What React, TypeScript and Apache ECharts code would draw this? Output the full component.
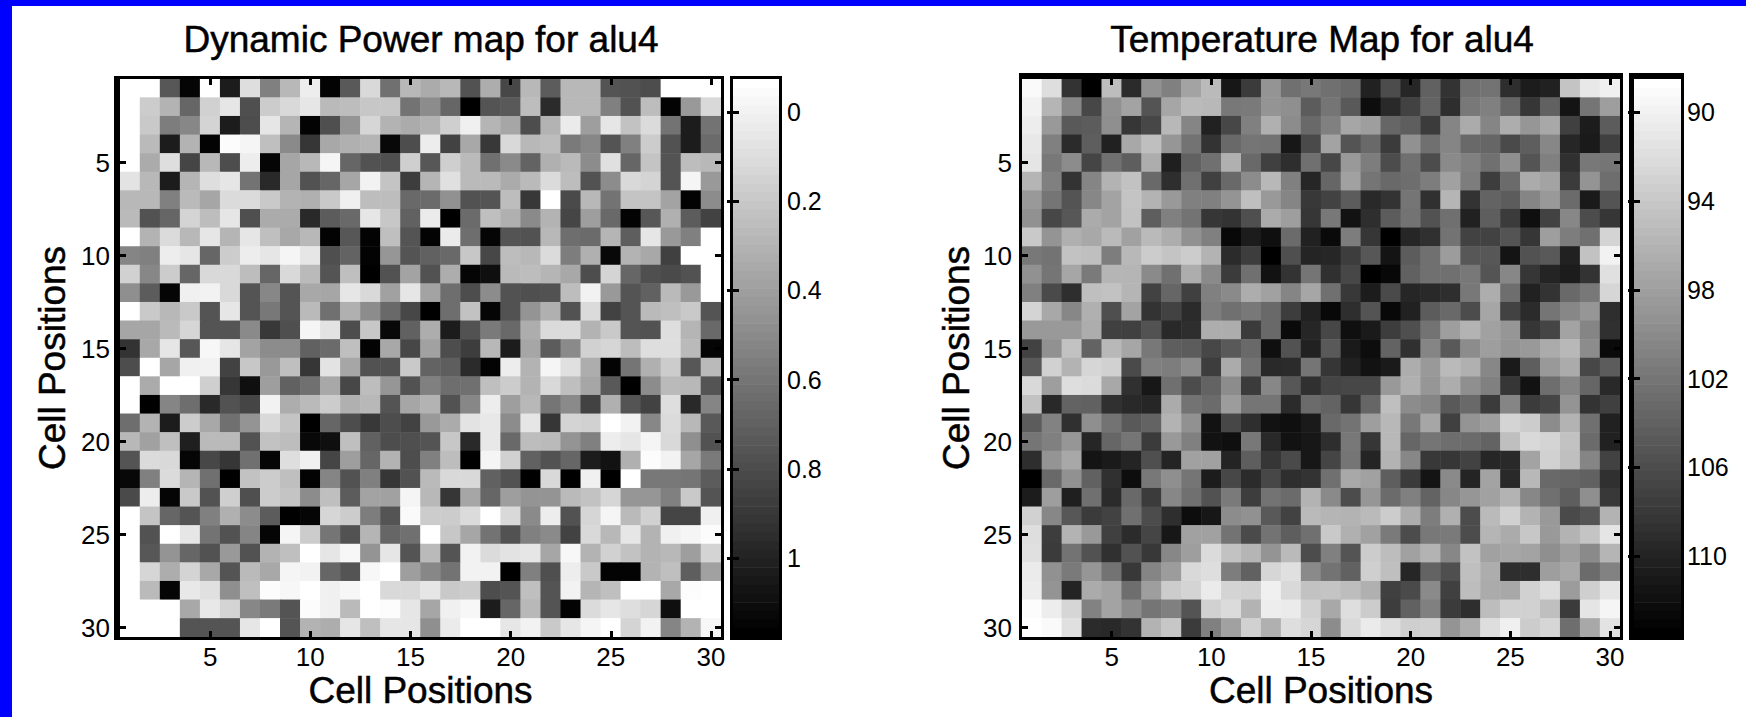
import React, { useEffect, useRef } from "react";
import * as echarts from "echarts";

const cellLabels = Array.from({ length: 30 }, (_, i) => String(i + 1));

const powerShades: number[][] = [
  [100,100,34,2,100,11,87,50,72,93,1,35,85,44,72,67,72,32,68,28,72,36,72,72,33,32,30,100,100,100],
  [100,80,70,40,82,90,31,80,85,90,73,74,78,78,45,55,40,0,33,35,74,17,72,72,50,32,74,1,60,85],
  [100,79,49,53,83,11,30,90,71,1,31,58,84,70,67,70,81,94,71,65,30,70,92,62,90,76,86,45,11,45],
  [100,73,11,70,1,99,96,75,54,21,66,69,71,3,30,93,26,66,22,85,72,74,48,53,33,50,80,32,11,42],
  [100,67,87,27,72,30,93,2,65,72,96,40,32,31,81,34,81,73,44,54,39,69,73,55,88,40,77,33,74,72],
  [89,72,11,71,87,90,45,16,65,32,40,65,95,77,24,71,88,73,73,67,73,86,74,32,55,85,83,33,96,60],
  [72,72,50,73,65,86,86,79,70,69,79,94,74,74,41,42,57,32,33,74,22,100,29,72,45,77,77,64,1,55],
  [73,32,40,83,74,90,31,67,67,16,36,41,90,78,38,92,0,42,75,69,54,70,27,62,41,1,34,69,36,26],
  [100,70,86,72,90,71,90,75,66,72,1,34,1,75,33,1,92,43,2,33,32,72,43,42,71,37,90,60,50,100],
  [52,50,93,90,40,80,93,90,96,90,31,39,1,59,33,38,41,78,28,74,72,86,49,69,3,70,66,25,100,100],
  [82,53,80,40,85,85,74,40,85,73,33,75,0,32,64,32,68,2,6,73,74,71,66,30,83,40,31,29,32,100],
  [56,36,2,94,95,85,33,53,33,66,65,90,85,63,90,64,43,30,55,32,31,32,74,95,60,33,38,73,60,100],
  [100,79,72,79,33,90,33,47,33,73,44,69,55,41,28,0,43,76,2,32,58,69,32,86,26,33,73,75,79,33],
  [65,65,73,84,33,33,54,22,31,96,89,30,78,3,38,68,11,32,48,41,68,86,86,70,79,33,32,87,71,41],
  [20,66,90,34,97,90,64,55,55,38,42,75,1,66,28,63,30,24,72,11,65,36,54,82,84,74,87,87,73,2],
  [30,100,65,94,95,26,78,60,75,21,89,65,32,32,79,39,37,17,1,93,70,96,88,68,1,46,69,80,34,73],
  [100,67,100,100,81,21,6,62,38,44,66,28,74,59,32,50,43,44,75,80,70,85,75,65,35,0,55,73,72,33],
  [100,0,52,43,16,32,27,95,68,73,80,69,72,33,65,70,32,53,93,62,72,46,54,26,69,33,26,87,16,52],
  [43,70,11,80,66,44,58,85,77,0,40,30,22,30,26,60,67,89,91,55,90,21,83,82,100,95,53,86,72,35],
  [72,63,75,12,73,73,32,76,74,3,6,75,38,30,31,33,78,16,91,41,74,73,58,50,93,90,96,85,56,32],
  [33,86,85,2,28,21,44,2,87,94,27,62,40,70,30,50,74,0,96,82,38,32,40,11,7,69,99,95,65,48],
  [3,50,86,71,44,0,76,80,75,1,52,32,50,21,32,73,85,85,38,32,0,85,0,94,0,100,47,47,46,36],
  [29,93,2,79,32,81,31,80,77,55,75,36,64,63,96,72,21,65,40,62,58,58,73,76,84,59,59,50,79,33],
  [100,77,40,33,50,69,55,36,0,2,84,80,49,33,98,80,80,86,100,85,54,93,32,84,96,73,82,27,27,94],
  [100,32,100,90,45,32,52,2,96,80,46,32,71,40,44,100,78,65,45,32,50,54,26,85,72,90,70,94,96,99],
  [100,34,58,40,32,60,32,70,75,100,90,97,58,90,33,73,33,95,86,89,90,65,97,70,82,76,70,72,62,83],
  [100,84,68,83,66,33,73,66,96,95,40,33,97,100,62,53,45,95,95,0,50,31,93,79,1,1,70,75,37,63],
  [100,73,2,91,88,56,75,99,97,100,94,97,100,85,85,90,79,80,30,33,75,33,95,71,75,100,100,66,99,100],
  [100,100,100,66,91,83,53,48,33,99,94,73,100,99,90,65,94,97,11,40,72,33,1,86,90,87,84,6,100,100],
  [100,100,100,33,33,33,90,100,33,70,68,90,75,90,90,56,92,100,100,90,95,79,90,96,100,83,95,52,70,97],
];

const temperatureShades: number[][] = [
  [98,87,20,0,74,17,57,50,64,73,9,23,58,44,47,44,41,13,30,15,38,20,44,45,18,11,13,77,91,94],
  [95,71,53,28,57,64,33,65,73,72,47,48,58,56,36,46,35,5,16,26,39,18,47,50,40,21,38,8,46,62],
  [93,60,35,36,56,21,28,72,52,13,28,50,69,55,41,50,65,62,40,37,23,52,67,52,68,59,66,25,11,36],
  [91,50,17,37,13,66,75,59,45,20,41,46,45,9,29,64,33,41,23,57,44,52,41,40,29,37,53,15,10,25],
  [90,47,55,27,44,37,68,12,38,44,69,41,25,18,44,28,60,49,30,44,30,54,50,44,56,33,50,19,47,46],
  [71,50,20,52,70,76,41,18,44,25,41,55,72,50,15,40,63,46,41,43,49,63,49,24,42,67,64,23,58,43],
  [60,46,33,53,64,77,70,60,50,50,58,75,60,52,22,26,36,16,20,46,19,71,20,39,36,52,60,42,10,33],
  [57,28,34,67,64,76,37,50,45,21,20,31,67,62,21,47,7,18,36,45,32,44,13,37,23,6,26,53,30,21],
  [79,58,69,66,73,63,73,68,57,50,3,11,6,42,13,4,49,21,0,15,19,45,26,26,33,21,62,49,44,83],
  [47,45,76,75,49,72,80,77,80,70,17,24,0,31,14,15,24,34,8,36,44,61,34,34,8,32,35,13,76,95],
  [57,46,65,48,71,71,54,44,68,54,23,44,7,20,46,19,28,0,3,38,44,44,47,33,53,21,14,11,20,88],
  [50,29,18,75,76,71,26,40,25,50,54,68,63,52,65,44,22,11,29,15,16,18,47,68,43,13,20,41,47,84],
  [83,66,53,69,31,64,20,26,17,49,44,47,41,24,13,3,18,33,3,13,36,41,30,65,26,17,46,53,59,18],
  [60,60,60,68,25,25,32,16,18,68,68,23,41,4,15,28,6,10,24,31,45,62,70,63,59,21,27,64,52,19],
  [26,57,76,39,72,65,47,37,36,28,35,41,6,32,13,35,10,5,39,19,52,35,55,62,58,60,67,72,55,4],
  [35,82,70,84,82,29,50,49,55,24,67,45,16,17,46,21,13,7,10,68,60,73,69,53,10,37,60,67,28,36],
  [85,62,87,86,66,19,9,44,30,39,55,23,53,34,19,27,28,28,60,69,59,68,56,50,21,7,43,52,40,16],
  [76,16,39,38,19,16,15,67,45,42,61,46,46,17,42,39,21,40,75,55,52,35,41,23,52,23,27,58,20,25],
  [36,51,19,56,45,35,39,70,57,7,28,18,7,6,10,41,45,62,72,47,65,25,58,62,83,80,55,70,44,13],
  [46,50,59,15,40,46,23,60,50,7,6,47,16,7,9,18,47,21,72,40,46,43,42,39,75,85,83,76,42,13],
  [18,58,66,8,10,14,31,14,63,63,14,37,21,29,9,27,46,14,70,53,22,21,26,15,16,64,82,75,52,26],
  [0,41,57,38,19,5,47,56,46,11,28,17,28,18,20,44,66,63,37,23,8,54,14,64,16,72,41,40,38,19],
  [11,62,12,44,17,41,23,53,44,32,48,24,45,42,70,54,30,59,42,50,39,53,59,63,70,53,44,37,56,22],
  [82,53,34,23,26,44,30,18,5,9,55,57,35,26,73,71,70,73,80,68,49,69,30,73,82,70,60,29,33,70],
  [87,24,70,60,25,17,27,9,63,63,45,29,45,37,44,79,69,63,48,30,47,48,30,71,67,78,60,70,77,90],
  [88,23,45,32,19,32,22,53,62,86,76,71,58,73,30,50,33,80,74,63,70,53,76,63,65,64,56,62,54,71],
  [92,57,48,59,45,22,52,61,85,87,49,38,84,88,54,45,38,81,75,15,39,31,75,68,18,18,62,66,42,51],
  [93,58,14,67,64,43,62,80,83,92,83,82,94,85,76,77,74,69,25,29,54,25,74,67,66,82,87,61,81,90],
  [99,93,84,51,64,55,46,50,33,82,86,70,93,92,82,66,87,80,24,38,50,23,18,74,82,82,75,23,90,96],
  [100,98,88,17,16,20,70,78,23,50,63,82,69,87,84,55,85,92,87,81,82,58,68,87,94,80,84,43,66,89],
];

const powerRange = [-0.074, 1.177];
const temperatureRange = [88.49, 113.65];
const powerTicks = [0, 0.2, 0.4, 0.6, 0.8, 1];
const temperatureTicks = [90, 94, 98, 102, 106, 110];
const colorLevels = 64;

const FONT = "Liberation Sans";

function Frame(x0: number, y0: number, x1: number, y1: number, l: number, t: number, r: number, b: number) {
  const s = { fill: "#000" };
  const rect = (x: number, y: number, width: number, height: number) => ({
    type: "rect", z: 50, silent: true, shape: { x, y, width, height }, style: s,
  });
  return [
    rect(x0 - l, y0 - t, x1 - x0 + l + r, t),
    rect(x0 - l, y1, x1 - x0 + l + r, b),
    rect(x0 - l, y0 - t, l, y1 - y0 + t + b),
    rect(x1, y0 - t, r, y1 - y0 + t + b),
  ];
}

type Panel = {
  title: string; shades: number[][]; range: number[]; ticks: number[];
  map: number[]; bar: number[]; yNameX: number; barMargin: number; titleX: number;
};

const panels: Panel[] = [
  { title: "Dynamic Power map for alu4", shades: powerShades, range: powerRange, ticks: powerTicks,
    map: [120, 79, 721, 637], bar: [733, 79, 779, 637], yNameX: 52, barMargin: 8, titleX: 416 },
  { title: "Temperature Map for alu4", shades: temperatureShades, range: temperatureRange, ticks: temperatureTicks,
    map: [1022, 79, 1620, 637], bar: [1634, 79, 1681, 637], yNameX: 956, barMargin: 6, titleX: 1317 },
];

function buildOption() {
  const W = 1746, H = 717;
  const grid: any[] = [], xAxis: any[] = [], yAxis: any[] = [], series: any[] = [], visualMap: any[] = [], title: any[] = [];
  const every5 = (i: number) => (i + 1) % 5 === 0;
  const tick = { show: true, inside: true, length: 6, alignWithLabel: true, interval: every5, lineStyle: { color: "#000", width: 3 } };
  const label = { color: "#000", fontFamily: FONT, fontSize: 26 };
  const heavy = { textBorderColor: "#000", textBorderWidth: 0.5 };

  panels.forEach((p) => {
    const [x0, y0, x1, y1] = p.map;
    const gi = grid.length;
    grid.push({ left: x0, top: y0, width: x1 - x0, height: y1 - y0, containLabel: false, outerBoundsMode: "none" });
    const xi = xAxis.length, yi = yAxis.length;
    xAxis.push(
      { type: "category", gridIndex: gi, data: cellLabels, position: "bottom", z: 20, splitLine: { show: false }, splitArea: { show: false },
        axisLine: { show: false }, axisTick: tick,
        axisLabel: { ...label, interval: every5, margin: 7 },
        name: "Cell Positions", nameLocation: "middle", nameGap: 35, nameMoveOverlap: false,
        nameTextStyle: { color: "#000", fontFamily: FONT, fontSize: 37, ...heavy } },
      { type: "category", gridIndex: gi, data: cellLabels, position: "top", z: 20, axisLine: { show: false }, axisTick: tick, axisLabel: { show: false } },
    );
    yAxis.push(
      { type: "category", gridIndex: gi, data: cellLabels, inverse: true, position: "left", z: 20, splitLine: { show: false }, splitArea: { show: false },
        axisLine: { show: false }, axisTick: tick,
        axisLabel: { ...label, interval: every5, margin: 10 },
        name: "Cell Positions", nameLocation: "middle", nameGap: x0 - p.yNameX, nameRotate: 90, nameMoveOverlap: false,
        nameTextStyle: { color: "#000", fontFamily: FONT, fontSize: 37, verticalAlign: "middle", ...heavy } },
      { type: "category", gridIndex: gi, data: cellLabels, inverse: true, position: "right", z: 20, axisLine: { show: false }, axisTick: tick, axisLabel: { show: false } },
    );
    const [lo, hi] = p.range;
    const data: number[][] = [];
    p.shades.forEach((row, r) => row.forEach((g, c) => data.push([c, r, hi - (g / 100) * (hi - lo)])));
    visualMap.push({ show: false, type: "continuous", min: lo, max: hi, seriesIndex: series.length, dimension: 2, inRange: { color: ["#ffffff", "#000000"] } });
    series.push({ type: "heatmap", xAxisIndex: xi, yAxisIndex: yi, data, itemStyle: { borderWidth: 0 }, emphasis: { disabled: true }, progressive: 0 });
    title.push({ text: p.title, left: p.titleX, top: 16, textAlign: "center",
      textStyle: { color: "#000", fontFamily: FONT, fontSize: 37, fontWeight: "normal", ...heavy } });

    // colour bar
    const [bx0, by0, bx1, by1] = p.bar;
    const bg = grid.length;
    grid.push({ left: bx0, top: by0, width: bx1 - bx0, height: by1 - by0, outerBoundsMode: "none" });
    const bxi = xAxis.length, byi = yAxis.length;
    xAxis.push({ type: "value", gridIndex: bg, min: 0, max: 1, show: false });
    const barTick = { show: true, inside: true, length: 6, customValues: p.ticks, lineStyle: { color: "#000", width: 3 } };
    yAxis.push(
      { type: "value", gridIndex: bg, min: lo, max: hi, inverse: true, position: "right", z: 20, splitLine: { show: false }, axisLine: { show: false },
        axisTick: barTick, axisLabel: { ...label, fontSize: 25, margin: p.barMargin, customValues: p.ticks, formatter: (v: number) => String(v) } },
      { type: "value", gridIndex: bg, min: lo, max: hi, inverse: true, position: "left", z: 20, splitLine: { show: false }, axisLine: { show: false },
        axisTick: barTick, axisLabel: { show: false } },
    );
    const bands: number[][] = [];
    for (let i = 0; i < colorLevels; i++) {
      bands.push([lo + ((hi - lo) * i) / colorLevels, lo + ((hi - lo) * (i + 1)) / colorLevels]);
    }
    series.push({
      type: "custom", xAxisIndex: bxi, yAxisIndex: byi, data: bands, silent: true,
      encode: { y: [0, 1] },
      renderItem: (params: any, api: any) => {
        const a = api.coord([0, api.value(0)]);
        const b = api.coord([1, api.value(1)]);
        const v = Math.round((255 * (colorLevels - 1 - params.dataIndex)) / (colorLevels - 1));
        return { type: "rect", shape: { x: a[0], y: a[1], width: b[0] - a[0], height: b[1] - a[1] + 0.6 },
          style: { fill: `rgb(${v},${v},${v})`, stroke: "none" } };
      },
    });
  });

  const [m0, m1] = panels;
  const graphic = [
    { type: "rect", z: 60, silent: true, shape: { x: 0, y: 0, width: W, height: 6 }, style: { fill: "#0000ff" } },
    { type: "rect", z: 60, silent: true, shape: { x: 0, y: 0, width: 12, height: H }, style: { fill: "#0000ff" } },
    ...Frame(m0.map[0], m0.map[1], m0.map[2], m0.map[3], 6, 3, 3, 3),
    ...Frame(m0.bar[0], m0.bar[1], m0.bar[2], m0.bar[3], 3, 3, 3, 3),
    ...Frame(m1.map[0], m1.map[1], m1.map[2], m1.map[3], 3, 6, 3, 3),
    ...Frame(m1.bar[0], m1.bar[1], m1.bar[2], m1.bar[3], 5, 6, 3, 3),
  ];

  return { animation: false, backgroundColor: "#ffffff", title, grid, xAxis, yAxis, visualMap, series, graphic };
}

export default function App() {
  const ref = useRef<HTMLDivElement>(null);
  useEffect(() => {
    document.body.style.margin = "0";
    const chart = echarts.init(ref.current!, undefined, { renderer: "svg" });
    chart.setOption(buildOption() as any);
    return () => chart.dispose();
  }, []);
  return <div ref={ref} style={{ width: 1746, height: 717 }} />;
}
